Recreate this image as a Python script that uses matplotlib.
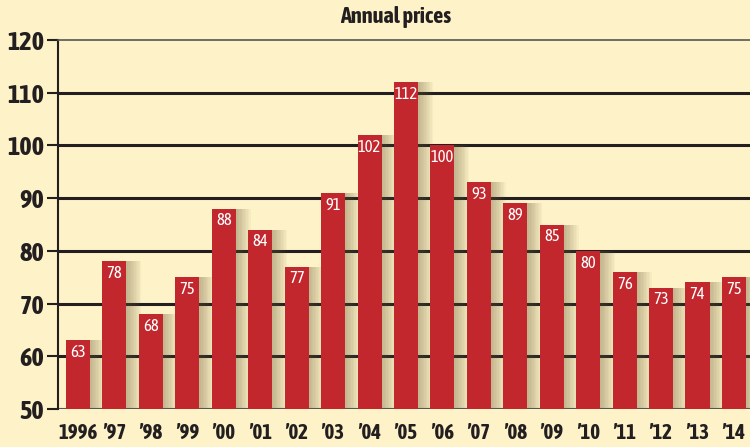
import numpy as np
import matplotlib
matplotlib.use("Agg")
import matplotlib.pyplot as plt
from matplotlib import font_manager

# prefer a narrow/condensed face with a bold weight, like the print graphic
fams = {}
for f in font_manager.fontManager.ttflist:
    fams.setdefault(f.name, []).append(f)
cands = [n for n in fams if ("Narrow" in n or "Condensed" in n)
         and any(isinstance(f.weight, int) and f.weight >= 600 or f.weight in ("bold", "heavy", "black") for f in fams[n])]
if cands:
    family = sorted(cands)[0]
    stretch = "normal"
else:
    family = "DejaVu Sans"
    stretch = "condensed"
plt.rcParams['font.family'] = [family, 'DejaVu Sans']

years = ["1996", "\u201997", "\u201998", "\u201999", "\u201900", "\u201901", "\u201902", "\u201903",
         "\u201904", "\u201905", "\u201906", "\u201907", "\u201908", "\u201909", "\u201910", "\u201911",
         "\u201912", "\u201913", "\u201914"]
prices = [63, 78, 68, 75, 88, 84, 77, 91, 102, 112, 100, 93, 89, 85, 80, 76, 73, 74, 75]

bg = "#fdf2c8"
red = "#c1272d"

fig = plt.figure(figsize=(7.5, 4.47), dpi=100, facecolor=bg)
ax = fig.add_axes([0.0773, 0.085, 0.9227, 0.8255])
ax.set_facecolor(bg)

x = np.arange(len(prices))

# soft shadow to the right of each bar
for k in range(10):
    ax.bar(x + 0.05 + k * 0.04, np.array(prices) - 50, bottom=50, width=0.66,
           color="#6b5a3a", alpha=0.045, zorder=1, linewidth=0)

ax.bar(x, np.array(prices) - 50, bottom=50, width=0.66, color=red, zorder=3, linewidth=0)

for xi, p in zip(x, prices):
    ax.text(xi, p - 0.7, str(p), ha="center", va="top", color="white", fontsize=12,
            fontstretch=stretch, zorder=4)

ax.set_ylim(50, 120)
ax.set_xlim(-0.55, 18.44)
ax.set_yticks(range(50, 121, 10))
ax.set_yticklabels([str(v) for v in range(50, 121, 10)], fontsize=19, fontweight="bold",
                   fontstretch=stretch, color="#231f20")
for v in range(60, 120, 10):
    ax.axhline(v, color="#231f20", linewidth=2.2, zorder=0.5)

ax.set_xticks(x)
ax.set_xticklabels(years, fontsize=15, fontweight="bold", fontstretch=stretch, color="#231f20")
ax.tick_params(axis="x", length=0, pad=10)
ax.tick_params(axis="y", length=8, width=1.5, color="#231f20", pad=2)

for s in ["right", "bottom"]:
    ax.spines[s].set_visible(False)
ax.spines["left"].set_color("#231f20")
ax.spines["left"].set_linewidth(1.5)
ax.spines["top"].set_color("#555555")
ax.spines["top"].set_linewidth(1.2)
ax.axhline(50, color="#555555", linewidth=1.5, zorder=2)

fig.text(0.527, 0.962, "Annual prices", ha="center", va="center", fontsize=16,
         fontweight="bold", fontstretch=stretch, color="#231f20")

fig.savefig("out.png", dpi=100, facecolor=bg)
